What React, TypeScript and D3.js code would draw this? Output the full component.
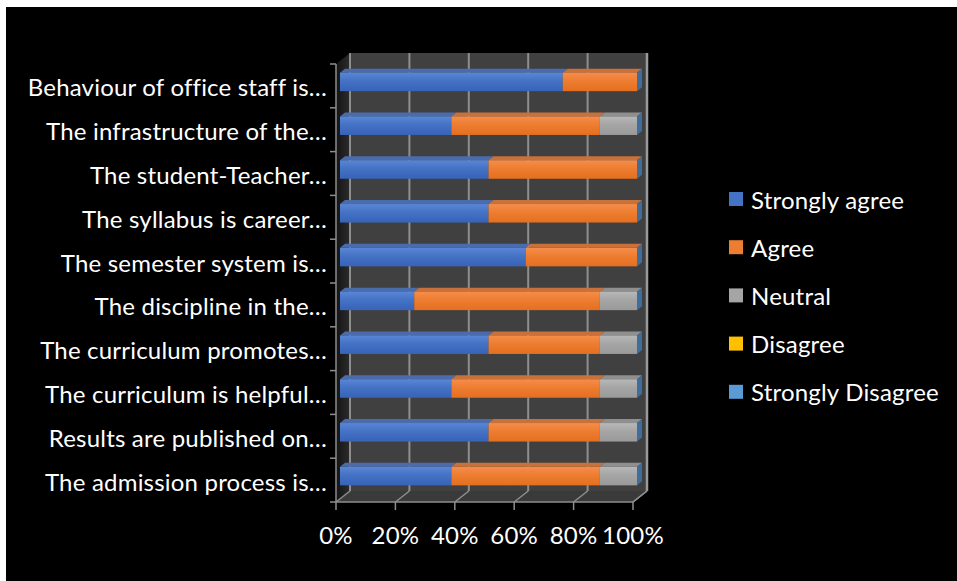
import React from "react";
import * as d3 from "d3";

const categories = [
  "Behaviour of office staff is…",
  "The infrastructure of the…",
  "The student-Teacher…",
  "The syllabus is career…",
  "The semester system is…",
  "The discipline in the…",
  "The curriculum promotes…",
  "The curriculum is helpful…",
  "Results are published on…",
  "The admission process is…",
];
const seriesNames = ["Strongly agree", "Agree", "Neutral", "Disagree", "Strongly Disagree"];
const stronglyAgree = [75, 37.5, 50, 50, 62.5, 25, 50, 37.5, 50, 37.5];
const agree = [25, 50, 50, 50, 37.5, 62.5, 37.5, 50, 37.5, 50];
const neutral = [0, 12.5, 0, 0, 0, 12.5, 12.5, 12.5, 12.5, 12.5];
const disagree = [0, 0, 0, 0, 0, 0, 0, 0, 0, 0];
const stronglyDisagree = [0, 0, 0, 0, 0, 0, 0, 0, 0, 0];
const xTicks = [0, 20, 40, 60, 80, 100];

const colors = ["#4472C4", "#ED7D31", "#A5A5A5", "#FFC000", "#5B9BD5"];
const topColors = ["#4a6cad", "#c9713a", "#8f8f8f", "#d9a300", "#4d84b6"];
const gradTop = ["#5a86d6", "#f58d4a", "#b8b8b8", "#ffcc33", "#6fa9dd"];
const gradBot = ["#3763b8", "#e56f1f", "#9a9a9a", "#eeb000", "#4a8ac6"];

const FONT = "Lato, 'Open Sans', sans-serif";
const FS = 24;
const LS = 0.2;

export default function App() {
  const W = 957, H = 581;
  const x0 = 336, x1 = 633;
  const yTop = 64, yBot = 502;
  const DX = 14, DY = -11;
  const bx = 4, by = -4; // bar front offset
  const bdx = 5, bdy = -4; // bar depth
  const barH = 18.5;

  const x = d3.scaleLinear().domain([0, 100]).range([x0, x1]);
  const y = d3.scaleBand<string>().domain(categories).range([yTop, yBot]);

  const table = categories.map((c, i) => ({
    cat: c,
    v: [stronglyAgree[i], agree[i], neutral[i], disagree[i], stronglyDisagree[i]],
  }));
  const boundaries = d3.range(categories.length + 1).map((i) => yTop + i * y.step());

  return (
    <svg width={W} height={H} style={{ position: "absolute", left: 0, top: 0 }}>
      <defs>
        {colors.map((c, i) => (
          <linearGradient key={i} id={`g${i}`} x1="0" y1="0" x2="0" y2="1">
            <stop offset="0" stopColor={gradTop[i]} />
            <stop offset="0.45" stopColor={c} />
            <stop offset="1" stopColor={gradBot[i]} />
          </linearGradient>
        ))}
        <linearGradient id="side" x1="0" y1="0" x2="1" y2="0">
          <stop offset="0" stopColor="#141414" />
          <stop offset="1" stopColor="#2c2c2c" />
        </linearGradient>
      </defs>
      <rect x={0} y={0} width={W} height={H} fill="#ffffff" />
      <rect x={6} y={7} width={W - 6} height={H - 7} fill="#000000" />

      {/* back wall */}
      <rect x={x0 + DX} y={yTop + DY} width={x1 - x0} height={yBot - yTop} fill="#404040" />
      {/* side wall */}
      <polygon
        points={`${x0},${yTop} ${x0 + DX},${yTop + DY} ${x0 + DX},${yBot + DY} ${x0},${yBot}`}
        fill="url(#side)"
      />
      {/* floor */}
      <polygon
        points={`${x0},${yBot} ${x1},${yBot} ${x1 + DX},${yBot + DY} ${x0 + DX},${yBot + DY}`}
        fill="#3a3a3a"
      />
      {/* gridlines */}
      {xTicks.map((t) => (
        <g key={t}>
          <line x1={x(t) + DX} x2={x(t) + DX} y1={yTop + DY} y2={yBot + DY} stroke="#8e8e8e" strokeWidth={2} />
          <line x1={x(t)} x2={x(t) + DX} y1={yBot} y2={yBot + DY} stroke="#8e8e8e" strokeWidth={1.5} />
        </g>
      ))}
      <line x1={x1 + DX} x2={x1 + DX} y1={yTop + DY} y2={yBot + DY} stroke="#9a9a9a" strokeWidth={2.5} />
      <line x1={x0} x2={x1} y1={yBot} y2={yBot} stroke="#8e8e8e" strokeWidth={1.5} />
      <line x1={x1} x2={x1 + DX} y1={yBot} y2={yBot + DY} stroke="#8e8e8e" strokeWidth={1.5} />

      {/* y axis */}
      <line x1={x0} x2={x0} y1={yTop} y2={yBot} stroke="#8e8e8e" strokeWidth={1.5} />
      {boundaries.map((b, i) => (
        <line key={i} x1={x0 - 6} x2={x0} y1={b} y2={b} stroke="#8e8e8e" strokeWidth={1.5} />
      ))}
      {/* x ticks */}
      {xTicks.map((t) => (
        <line key={t} x1={x(t)} x2={x(t)} y1={yBot} y2={yBot + 8} stroke="#8e8e8e" strokeWidth={1.5} />
      ))}

      {/* bars */}
      {table.map((row) => {
        const yc = (y(row.cat) as number) + y.bandwidth() / 2 + by;
        const top = yc - barH / 2;
        const bot = yc + barH / 2;
        let acc = 0;
        const segs = row.v.map((v, si) => {
          const a = acc;
          acc += v;
          return { si, a, b: acc, v };
        });
        const end = x(100) + bx;
        return (
          <g key={row.cat}>
            {segs.filter((s) => s.v > 0).map((s) => {
              const xa = x(s.a) + bx, xb = x(s.b) + bx;
              return (
                <g key={s.si}>
                  <polygon
                    points={`${xa},${top} ${xb},${top} ${xb + bdx},${top + bdy} ${xa + bdx},${top + bdy}`}
                    fill={topColors[s.si]}
                  />
                  <rect x={xa} y={top} width={xb - xa} height={barH} fill={`url(#g${s.si})`} />
                </g>
              );
            })}
            <polygon
              points={`${end},${top} ${end + bdx},${top + bdy} ${end + bdx},${bot + bdy} ${end},${bot}`}
              fill="#3f6e9c"
            />
          </g>
        );
      })}

      {/* category labels */}
      {categories.map((c) => (
        <text
          key={c}
          x={327}
          y={(y(c) as number) + y.bandwidth() / 2 + 1}
          textAnchor="end"
          dominantBaseline="central"
          fill="#ffffff"
          fontFamily={FONT}
          fontSize={FS}
          letterSpacing={LS}
        >
          {c}
        </text>
      ))}

      {/* x tick labels */}
      {xTicks.map((t) => (
        <text
          key={t}
          x={x(t)}
          y={544}
          textAnchor="middle"
          fill="#ffffff"
          fontFamily={FONT}
          fontSize={FS}
          letterSpacing={LS}
        >
          {`${t}%`}
        </text>
      ))}

      {/* legend */}
      {seriesNames.map((n, i) => (
        <g key={n} transform={`translate(729, ${199 + i * 48.2})`}>
          <rect x={0} y={-7} width={14} height={14} fill={colors[i]} />
          <text x={22} y={0} dominantBaseline="central" fill="#ffffff" fontFamily={FONT} fontSize={FS} letterSpacing={LS}>
            {n}
          </text>
        </g>
      ))}
    </svg>
  );
}
